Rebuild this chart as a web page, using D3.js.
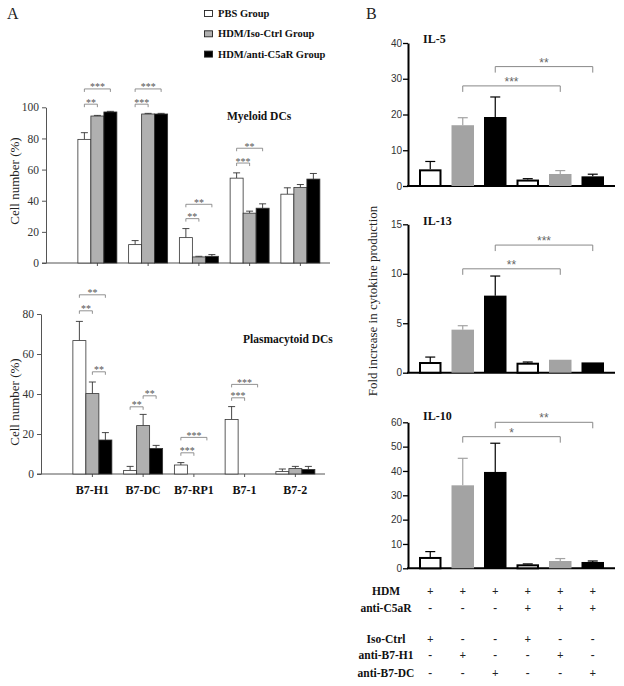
<!DOCTYPE html>
<html><head><meta charset="utf-8">
<script src="https://cdn.jsdelivr.net/npm/d3@7"></script>
<style>body{margin:0;background:#fff}svg{display:block}</style>
</head><body>
<svg id="c" width="624" height="686"></svg>
<script>
// ---------- DATA ----------
const categoriesA = ["B7-H1", "B7-DC", "B7-RP1", "B7-1", "B7-2"];
const groupsA = ["PBS Group", "HDM/Iso-Ctrl Group", "HDM/anti-C5aR Group"];
const myeloidMean = [[79.4, 94.4, 97.0], [11.8, 95.7, 95.7], [16.3, 3.9, 4.3], [54.5, 32.0, 35.2], [44.2, 48.5, 53.9]];
const myeloidErr  = [[4.3, 0.4, 0.4], [2.6, 0.4, 0.4], [5.8, 0.4, 1.1], [3.4, 1.3, 2.8], [4.1, 1.9, 3.6]];
const pdcMean = [[66.7, 40.2, 17.0], [1.8, 24.2, 12.8], [4.5, 0, 0], [27.3, 0, 0], [1.2, 2.7, 2.3]];
const pdcErr  = [[9.6, 5.8, 3.7], [2.0, 5.6, 1.5], [1.2, 0, 0], [6.4, 0, 0], [1.3, 1.1, 1.5]];
const myeloidTicks = [0, 20, 40, 60, 80, 100];
const pdcTicks = [0, 20, 40, 60, 80];
// [category, group i, group j, height (value units), label]
const myeloidSig = [[0,0,1,102,"**"],[0,0,2,111.8,"***"],[1,0,1,102,"***"],[1,0,2,111.8,"***"],
                    [2,0,1,28.5,"**"],[2,0,2,37.7,"**"],[3,0,1,64.2,"***"],[3,0,2,73.7,"**"]];
const pdcSig = [[0,0,2,89.6,"**"],[0,0,1,81.6,"**"],[0,1,2,51.1,"**"],[1,0,1,33.6,"**"],[1,1,2,39.1,"**"],
                [2,0,1,10.6,"***"],[2,0,2,18.3,"***"],[3,0,1,38.1,"***"],[3,0,2,44.8,"***"]];

const conditionsB = [0, 1, 2, 3, 4, 5];
const il5Mean = [4.66, 17.0, 19.3, 1.8, 3.36, 2.7];
const il5Err  = [2.2, 2.1, 5.6, 0.25, 0.95, 0.6];
const il13Mean = [1.08, 4.35, 7.79, 1.01, 1.31, 1.04];
const il13Err  = [0.5, 0.4, 1.98, 0.07, 0, 0];
const il10Mean = [4.66, 34.1, 39.6, 1.64, 3.0, 2.6];
const il10Err  = [2.2, 11.1, 11.8, 0.16, 1.0, 0.4];
const il5Ticks = [0, 10, 20, 30, 40];
const il13Ticks = [0, 5, 10, 15];
const il10Ticks = [0, 10, 20, 30, 40, 50, 60];
const il5Sig = [[1,4,28,"***"],[2,5,33.4,"**"]];
const il13Sig = [[1,4,10.5,"**"],[2,5,12.9,"***"]];
const il10Sig = [[1,4,54.1,"*"],[2,5,60,"**"]];

const rowLabels = ["HDM", "anti-C5aR", "Iso-Ctrl", "anti-B7-H1", "anti-B7-DC"];
const rowSigns = [
  ["+","+","+","+","+","+"],
  ["-","-","-","+","+","+"],
  ["+","-","-","+","-","-"],
  ["-","+","-","-","+","-"],
  ["-","-","+","-","-","+"]
];

// ---------- DRAW ----------
const svg = d3.select("#c");
const serif = "'Liberation Serif','Times New Roman',serif";
const sans = "'Liberation Sans',Arial,sans-serif";
const fillsA = ["#ffffff", "#b0b0b0", "#000000"];
const fillsB = ["#ffffff", "#a3a3a3", "#000000"];

function drawA(cfg) {
  const x0 = d3.scaleBand().domain(categoriesA)
    .range([cfg.ax + 26, cfg.ax + 26 + 5 * 50.75]).paddingInner(0.2315).paddingOuter(0.1158);
  const x1 = d3.scaleBand().domain([0, 1, 2]).range([0, x0.bandwidth()]);
  const y = d3.scaleLinear().domain([0, cfg.yMax]).range([cfg.y0, cfg.yTop]);
  const g = svg.append("g");
  const ya = g.append("g").attr("transform", `translate(${cfg.ax},0)`)
    .call(d3.axisLeft(y).tickValues(cfg.ticks).tickSize(4).tickSizeOuter(0).tickPadding(3));
  ya.select(".domain").attr("stroke", "#555");
  ya.selectAll(".tick line").attr("stroke", "#555");
  ya.selectAll(".tick text").attr("font-family", serif).attr("font-size", 11.5).attr("fill", "#333");
  g.append("line").attr("x1", cfg.ax - 4).attr("x2", cfg.xEnd).attr("y1", cfg.y0).attr("y2", cfg.y0)
    .attr("stroke", "#555");
  categoriesA.forEach(c => {
    const cx = x0(c) + x0.bandwidth() / 2;
    g.append("line").attr("x1", cx).attr("x2", cx).attr("y1", cfg.y0).attr("y2", cfg.y0 + 3).attr("stroke", "#555");
  });
  categoriesA.forEach((c, ci) => {
    [0, 1, 2].forEach(gi => {
      const v = cfg.means[ci][gi], e = cfg.errs[ci][gi];
      const bx = x0(c) + x1(gi), bw = x1.bandwidth();
      const cx = bx + bw / 2;
      if (e > 0) {
        g.append("line").attr("x1", cx).attr("x2", cx).attr("y1", y(v)).attr("y2", y(v + e)).attr("stroke", "#333").attr("stroke-width", 0.9);
        g.append("line").attr("x1", cx - 3.5).attr("x2", cx + 3.5).attr("y1", y(v + e)).attr("y2", y(v + e)).attr("stroke", "#333").attr("stroke-width", 0.9);
      }
      if (v > 0) {
        g.append("rect").attr("x", bx).attr("y", y(v)).attr("width", bw).attr("height", cfg.y0 - y(v))
          .attr("fill", fillsA[gi]).attr("stroke", "#333").attr("stroke-width", 0.8);
      }
    });
  });
  cfg.sig.forEach(([ci, gi, gj, h, lab]) => {
    const xa = x0(categoriesA[ci]) + x1(gi) + x1.bandwidth() / 2;
    const xb = x0(categoriesA[ci]) + x1(gj) + x1.bandwidth() / 2;
    const yy = y(h);
    g.append("path").attr("d", `M${xa},${yy + 3}V${yy}H${xb}V${yy + 3}`).attr("fill", "none").attr("stroke", "#777").attr("stroke-width", 0.8);
    g.append("text").attr("x", (xa + xb) / 2).attr("y", yy + 1.5).attr("text-anchor", "middle")
      .attr("font-family", serif).attr("font-size", 10).attr("fill", "#555").text(lab);
  });
  g.append("text").attr("transform", `translate(19,${cfg.labelY}) rotate(-90)`).attr("text-anchor", "middle")
    .attr("font-family", serif).attr("font-size", 13).attr("fill", "#222").text("Cell number (%)");
  g.append("text").attr("x", cfg.titleX).attr("y", cfg.titleY).attr("font-family", serif).attr("font-weight", "bold")
    .attr("font-size", 11.5).attr("fill", "#111").text(cfg.title);
  return { x0, y };
}

drawA({ ax: 46, xEnd: 330, y0: 263, yTop: 107.3, yMax: 100, ticks: myeloidTicks, means: myeloidMean, errs: myeloidErr,
  sig: myeloidSig, labelY: 181, title: "Myeloid DCs", titleX: 227, titleY: 120 });
const bottom = drawA({ ax: 41, xEnd: 325, y0: 474, yTop: 314, yMax: 80, ticks: pdcTicks, means: pdcMean, errs: pdcErr,
  sig: pdcSig, labelY: 402, title: "Plasmacytoid DCs", titleX: 243, titleY: 343 });

// category labels
categoriesA.forEach(c => {
  svg.append("text").attr("x", bottom.x0(c) + bottom.x0.bandwidth() / 2).attr("y", 494).attr("text-anchor", "middle")
    .attr("font-family", serif).attr("font-weight", "bold").attr("font-size", 12).attr("fill", "#111").text(c);
});

// legend
groupsA.forEach((name, i) => {
  const by = 17 + i * 20.3;
  svg.append("rect").attr("x", 204.5).attr("y", by - 6.5).attr("width", 8).attr("height", 6)
    .attr("fill", fillsA[i]).attr("stroke", "#222").attr("stroke-width", 0.9);
  svg.append("text").attr("x", 218).attr("y", by).attr("font-family", serif).attr("font-weight", "bold")
    .attr("font-size", 10.5).attr("fill", "#111").text(name);
});

// panel letters
svg.append("text").attr("x", 7).attr("y", 18.5).attr("font-family", serif).attr("font-size", 16).attr("fill", "#222").text("A");
svg.append("text").attr("x", 366).attr("y", 18.5).attr("font-family", serif).attr("font-size", 16).attr("fill", "#222").text("B");

const xB = d3.scaleBand().domain(conditionsB).range([414, 609]).paddingInner(0.3077).paddingOuter(0.1538);

function drawB(cfg) {
  const y = d3.scaleLinear().domain([0, cfg.max]).range([cfg.y0, cfg.yTop]);
  const g = svg.append("g");
  const ya = g.append("g").attr("transform", "translate(408,0)")
    .call(d3.axisLeft(y).tickValues(cfg.ticks).tickSize(5).tickSizeOuter(0).tickPadding(1));
  ya.select(".domain").attr("stroke", "#000").attr("stroke-width", 2);
  ya.selectAll(".tick line").attr("stroke", "#000").attr("stroke-width", 1.3);
  ya.selectAll(".tick text").attr("font-family", sans).attr("font-size", 10).attr("fill", "#333");
  g.append("line").attr("x1", 407).attr("x2", 615).attr("y1", cfg.y0).attr("y2", cfg.y0).attr("stroke", "#000").attr("stroke-width", 2);
  conditionsB.forEach((c, i) => {
    const v = cfg.means[i], e = cfg.errs[i];
    const bx = xB(c), bw = xB.bandwidth(), cx = bx + bw / 2;
    const col = i % 3 === 1 ? "#a3a3a3" : "#000";
    if (e > 0) {
      g.append("line").attr("x1", cx).attr("x2", cx).attr("y1", y(v)).attr("y2", y(v + e)).attr("stroke", col).attr("stroke-width", 1.2);
      g.append("line").attr("x1", cx - 5).attr("x2", cx + 5).attr("y1", y(v + e)).attr("y2", y(v + e)).attr("stroke", col).attr("stroke-width", 1.2);
    }
    if (i % 3 === 0) {
      g.append("rect").attr("x", bx + 1).attr("y", y(v) + 1).attr("width", bw - 2).attr("height", Math.max(0, cfg.y0 - y(v) - 1))
        .attr("fill", "#fff").attr("stroke", "#000").attr("stroke-width", 2);
    } else {
      g.append("rect").attr("x", bx).attr("y", y(v)).attr("width", bw).attr("height", cfg.y0 - y(v)).attr("fill", fillsB[i % 3]);
    }
  });
  cfg.sig.forEach(([i, j, h, lab]) => {
    const xa = xB(i) + xB.bandwidth() / 2, xb = xB(j) + xB.bandwidth() / 2, yy = y(h);
    g.append("path").attr("d", `M${xa},${yy + 6}V${yy}H${xb}V${yy + 6}`).attr("fill", "none").attr("stroke", "#888").attr("stroke-width", 1);
    g.append("text").attr("x", (xa + xb) / 2).attr("y", yy).attr("text-anchor", "middle")
      .attr("font-family", sans).attr("font-size", 12).attr("fill", "#666").text(lab);
  });
  g.append("text").attr("x", 423).attr("y", cfg.titleY).attr("font-family", serif).attr("font-weight", "bold")
    .attr("font-size", 12).attr("fill", "#111").text(cfg.title);
}

drawB({ y0: 186, yTop: 43, max: 40, ticks: il5Ticks, means: il5Mean, errs: il5Err, sig: il5Sig, title: "IL-5", titleY: 43 });
drawB({ y0: 372.7, yTop: 224.3, max: 15, ticks: il13Ticks, means: il13Mean, errs: il13Err, sig: il13Sig, title: "IL-13", titleY: 225 });
drawB({ y0: 568.3, yTop: 422.3, max: 60, ticks: il10Ticks, means: il10Mean, errs: il10Err, sig: il10Sig, title: "IL-10", titleY: 420 });

svg.append("text").attr("transform", "translate(377,301) rotate(-90)").attr("text-anchor", "middle")
  .attr("font-family", serif).attr("font-size", 13).attr("fill", "#222").text("Fold increase in cytokine production");

// treatment table
const rowY = [595, 612, 643, 659, 677];
rowLabels.forEach((lab, r) => {
  svg.append("text").attr("x", 386).attr("y", rowY[r]).attr("text-anchor", "middle").attr("font-family", serif)
    .attr("font-weight", "bold").attr("font-size", 11.5).attr("fill", "#111").text(lab);
  rowSigns[r].forEach((s, i) => {
    svg.append("text").attr("x", xB(i) + xB.bandwidth() / 2).attr("y", rowY[r]).attr("text-anchor", "middle")
      .attr("font-family", serif).attr("font-weight", "bold").attr("font-size", 11.5).attr("fill", "#222").text(s);
  });
});
</script>
</body></html>
